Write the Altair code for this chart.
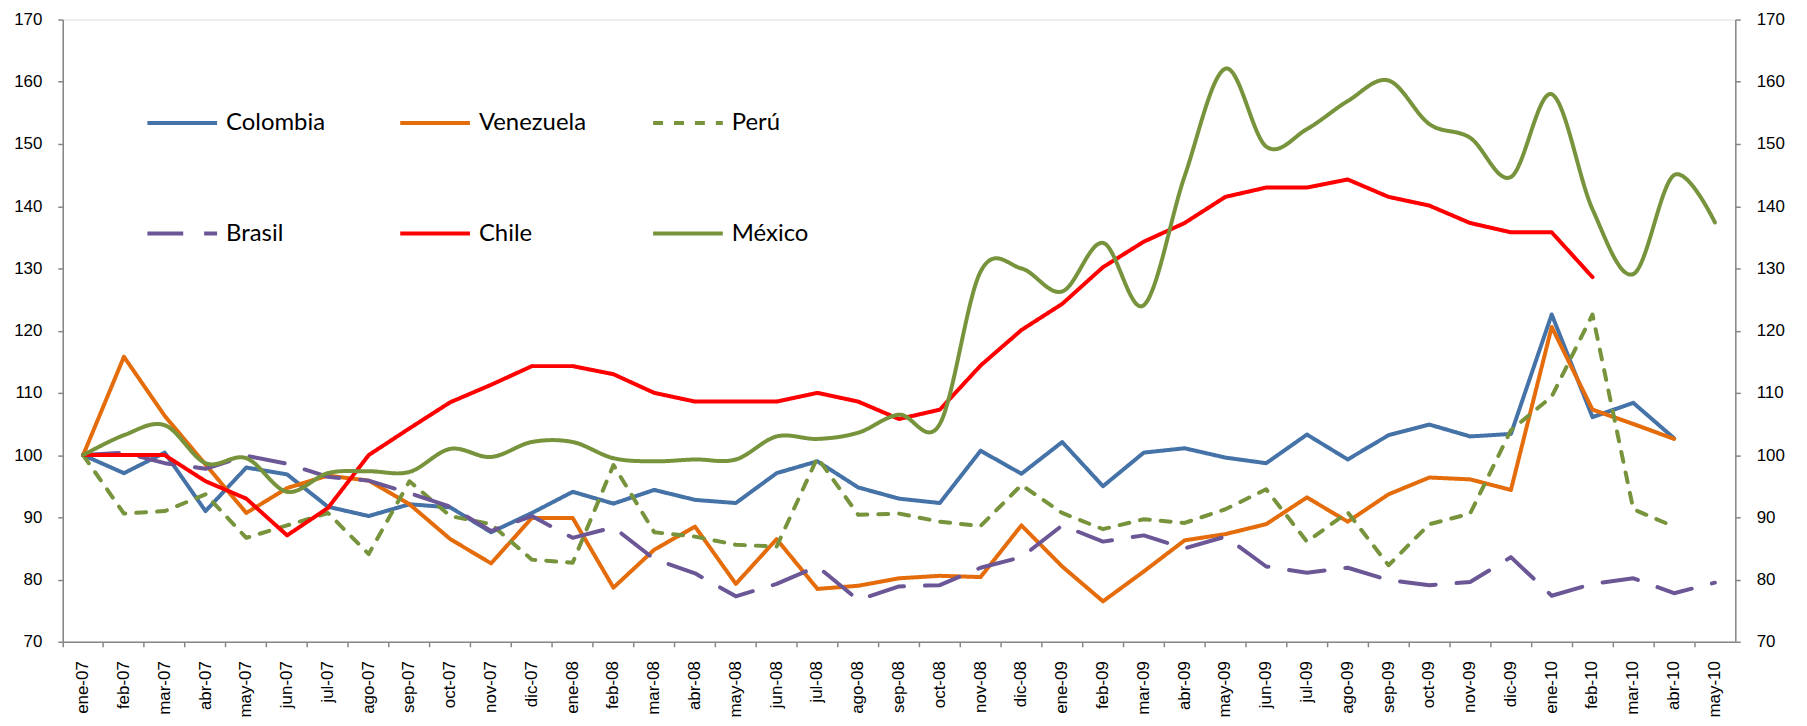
import altair as alt
import pandas as pd

months = [
    "ene-07", "feb-07", "mar-07", "abr-07", "may-07", "jun-07", "jul-07", "ago-07", "sep-07", "oct-07", "nov-07", "dic-07",
    "ene-08", "feb-08", "mar-08", "abr-08", "may-08", "jun-08", "jul-08", "ago-08", "sep-08", "oct-08", "nov-08", "dic-08",
    "ene-09", "feb-09", "mar-09", "abr-09", "may-09", "jun-09", "jul-09", "ago-09", "sep-09", "oct-09", "nov-09", "dic-09",
    "ene-10", "feb-10", "mar-10", "abr-10", "may-10",
]

colombia = [100, 97.1, 100.4, 91.0, 98.0, 96.9, 91.7, 90.2, 92.1, 91.6, 87.6, 90.7,
            94.1, 92.2, 94.4, 92.8, 92.3, 97.1, 99.0, 94.8, 93.0, 92.3, 100.7, 97.0,
            102.1, 95.0, 100.4, 101.1, 99.6, 98.7, 103.3, 99.3, 103.2, 104.9, 103.0, 103.4,
            122.6, 106.1, 108.4, 102.7, None]
venezuela = [100, 115.8, 106.3, 98.5, 90.7, 94.7, 96.7, 95.9, 92.1, 86.5, 82.6, 89.9,
             89.9, 78.7, 84.8, 88.5, 79.3, 86.5, 78.5, 79.0, 80.2, 80.6, 80.4, 88.7,
             82.1, 76.5, 81.3, 86.3, 87.3, 88.9, 93.2, 89.3, 93.7, 96.4, 96.1, 94.4,
             120.6, 107.3, 105.0, 102.6, None]
peru = [100, 90.6, 91.0, 93.7, 86.7, 88.7, 90.7, 84.1, 95.8, 90.2, 88.9, 83.2,
        82.7, 98.4, 87.6, 86.9, 85.6, 85.3, 99.6, 90.4, 90.6, 89.3, 88.6, 95.2,
        90.7, 88.1, 89.7, 89.1, 91.3, 94.5, 86.1, 90.8, 82.3, 88.9, 90.6, 104.0,
        109.4, 122.6, 91.3, 88.5, None]
brasil = [100, 100.4, 98.7, 97.8, 99.9, 98.6, 96.5, 95.9, 93.9, 91.7, 87.8, 90.2,
          86.7, 88.4, 83.3, 81.0, 77.3, 79.3, 82.1, 76.7, 78.9, 79.1, 81.9, 83.6,
          88.7, 86.1, 87.1, 85.0, 86.9, 82.1, 81.1, 81.9, 79.9, 79.1, 79.6, 83.6,
          77.4, 79.3, 80.2, 77.8, 79.5]
chile = [100, 100, 100, 95.8, 93.0, 87.1, 91.5, 100, 104.3, 108.5, 111.3, 114.3,
         114.3, 113.0, 110.0, 108.6, 108.6, 108.6, 110.0, 108.6, 105.8, 107.3, 114.4, 120.1,
         124.3, 130.2, 134.3, 137.3, 141.5, 143.0, 143.0, 144.3, 141.5, 140.1, 137.3, 135.8,
         135.8, 128.6, None, None, None]
mexico = [100, 103.2, 104.8, 98.7, 99.5, 94.1, 97.1, 97.4, 97.3, 101.0, 99.7, 102.1,
          102.1, 99.5, 99.0, 99.3, 99.3, 103.0, 102.6, 103.6, 106.5, 105.0, 129.5, 130.0,
          126.3, 134.1, 124.1, 144.8, 162.1, 149.6, 152.4, 156.9, 160.2, 153.2, 151.0, 144.7,
          158.0, 139.5, 129.1, 145.0, 137.4]

series_names = ["Colombia", "Venezuela", "Perú", "Brasil", "Chile", "México"]
series_values = [colombia, venezuela, peru, brasil, chile, mexico]
series_colors = ["#4573A7", "#E46C0A", "#77933C", "#6B5696", "#FF0000", "#77933C"]
series_dashes = [[1, 0], [1, 0], [10, 11], [36, 21], [1, 0], [1, 0]]
series_interp = ["linear", "linear", "linear", "linear", "linear", "cardinal"]
y_ticks = [70, 80, 90, 100, 110, 120, 130, 140, 150, 160, 170]

rows = []
for name, vals in zip(series_names, series_values):
    for m, v in zip(months, vals):
        if v is not None:
            rows.append({"mes": m, "serie": name, "valor": v})
df = pd.DataFrame(rows)

W, H = 1680, 625

x_enc = alt.X(
    "mes:N",
    sort=months,
    scale=alt.Scale(type="band", domain=months, paddingInner=0, paddingOuter=0),
    axis=alt.Axis(
        title=None, labelAngle=-90, bandPosition=0,
        labelFont="Liberation Sans", labelFontSize=17, labelColor="#000000",
        labelPadding=14, tickSize=5, tickColor="#868686", domainColor="#868686",
        domainWidth=1.5, tickWidth=1.5, grid=False, labelOverlap=False,
    ),
)

y_scale = alt.Scale(domain=[70, 170], nice=False, zero=False)


def y_axis(orient):
    return alt.Axis(
        orient=orient, title=None, values=y_ticks, grid=False,
        labelFont="Liberation Sans", labelFontSize=17, labelColor="#000000",
        labelPadding=16, tickSize=5, tickColor="#868686", domainColor="#868686",
        domainWidth=1.5, tickWidth=1.5,
    )


def legend():
    return alt.Legend(
        title=None, orient="none", legendX=83, legendY=67, columns=3, direction="horizontal",
        gridAlign="all", symbolType="stroke", symbolSize=4900, symbolStrokeWidth=4,
        labelFont="Lato", labelFontSize=24, labelColor="#000000", labelOffset=7,
        columnPadding=59, rowPadding=62, padding=0,
    )


color_enc = alt.Color(
    "serie:N",
    scale=alt.Scale(domain=series_names, range=series_colors),
    sort=series_names,
    legend=legend(),
)
dash_enc = alt.StrokeDash(
    "serie:N",
    scale=alt.Scale(domain=series_names, range=series_dashes),
    sort=series_names,
    legend=legend(),
)

layers = []
n = len(series_names)
for i, (name, interp) in enumerate(zip(series_names, series_interp)):
    if i == 0:
        y_enc = alt.Y("valor:Q", scale=y_scale, axis=y_axis("left"))
    elif i == n - 1:
        y_enc = alt.Y("valor:Q", scale=y_scale, axis=y_axis("right"))
    else:
        y_enc = alt.Y("valor:Q", scale=y_scale, axis=None)
    layer = (
        alt.Chart(df)
        .transform_filter(alt.datum.serie == name)
        .mark_line(strokeWidth=4, strokeCap="round", strokeJoin="round", interpolate=interp)
        .encode(x=x_enc, y=y_enc, color=color_enc, strokeDash=dash_enc)
    )
    layers.append(layer)

chart = (
    alt.layer(*layers)
    .resolve_axis(y="independent")
    .resolve_scale(y="shared")
    .properties(
        width=W, height=H,
        autosize=alt.AutoSizeParams(type="none"),
        padding={"left": 55, "top": 10, "right": 64, "bottom": 83},
    )
    .configure_view(stroke=None)
    .configure(background="#FFFFFF")
)

chart.save("out.html", embed_options={"renderer": "svg", "actions": False})
